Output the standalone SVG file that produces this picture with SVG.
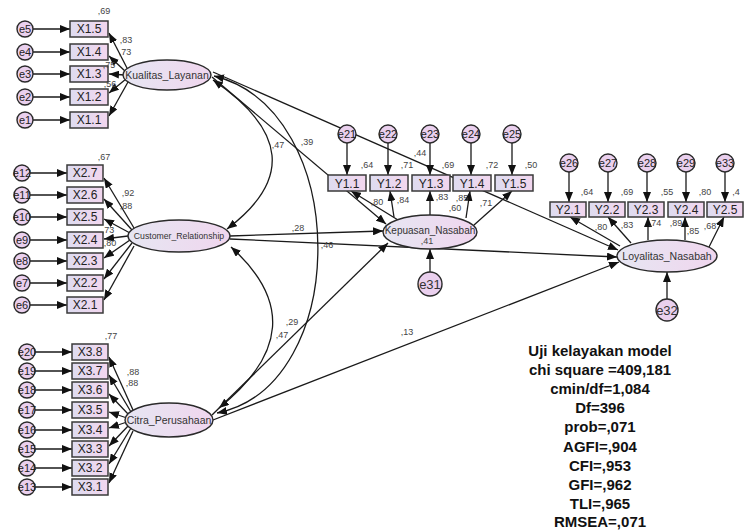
<svg xmlns="http://www.w3.org/2000/svg" width="744" height="531" viewBox="0 0 744 531">
<defs>
  <linearGradient id="gBox" x1="0" y1="0" x2="1" y2="0">
    <stop offset="0" stop-color="#dedcf0"/>
    <stop offset="1" stop-color="#f2d6ee"/>
  </linearGradient>
  <linearGradient id="gEll" x1="0" y1="0" x2="1" y2="0">
    <stop offset="0" stop-color="#e6e6f2"/>
    <stop offset="1" stop-color="#f0d6ee"/>
  </linearGradient>
  <marker id="ah" viewBox="0 0 10 8" refX="10" refY="4" markerWidth="10" markerHeight="8" markerUnits="userSpaceOnUse" orient="auto-start-reverse">
    <path d="M0,0 L10,4 L0,8 z" fill="#111"/>
  </marker>
  <style>
    .box{fill:url(#gBox);stroke:#3a3a3a;stroke-width:1.5}
    .ell{fill:url(#gEll);stroke:#2a2a2a;stroke-width:1.4}
    .err{fill:#ead0ee;stroke:#2a2a2a;stroke-width:1.4}
    .bt{font-family:"Liberation Sans",Arial,sans-serif;font-size:12px;fill:#222;text-anchor:middle}
    .lt{font-family:"Liberation Sans",Arial,sans-serif;fill:#333;text-anchor:middle}
    .et{font-family:"Liberation Sans",Arial,sans-serif;font-size:11px;fill:#222;text-anchor:middle}
    .n{font-family:"Liberation Sans",Arial,sans-serif;font-size:9px;fill:#444;text-anchor:middle}
    .c{fill:none;stroke:#1a1a1a;stroke-width:1.3;marker-end:url(#ah)}
    .cd{fill:none;stroke:#1a1a1a;stroke-width:1.3;marker-end:url(#ah);marker-start:url(#ah)}
    .fit{font-family:"Liberation Sans",Arial,sans-serif;font-size:15px;font-weight:bold;fill:#111;text-anchor:middle}
  </style>
</defs>
<rect width="744" height="531" fill="#ffffff"/>

<!-- connectors -->
<g id="connectors">
  <!-- errors to Kualitas_Layanan indicators -->
  <line class="c" x1="33" y1="29" x2="70" y2="29"/>
  <line class="c" x1="33" y1="52" x2="70" y2="52"/>
  <line class="c" x1="33" y1="74" x2="70" y2="74"/>
  <line class="c" x1="33" y1="97" x2="70" y2="97"/>
  <line class="c" x1="33" y1="120" x2="70" y2="120"/>
  <!-- Kualitas_Layanan loadings -->
  <line class="c" x1="128" y1="70" x2="109" y2="33"/>
  <line class="c" x1="126" y1="72" x2="109" y2="56"/>
  <line class="c" x1="125" y1="75" x2="109" y2="74"/>
  <line class="c" x1="126" y1="79" x2="109" y2="93"/>
  <line class="c" x1="128" y1="82" x2="109" y2="116"/>

  <!-- errors to Customer_Relationship indicators -->
  <line class="c" x1="30" y1="173" x2="67" y2="173"/>
  <line class="c" x1="30" y1="195" x2="67" y2="195"/>
  <line class="c" x1="30" y1="217" x2="67" y2="217"/>
  <line class="c" x1="30" y1="240" x2="67" y2="240"/>
  <line class="c" x1="30" y1="261" x2="67" y2="261"/>
  <line class="c" x1="30" y1="283" x2="67" y2="283"/>
  <line class="c" x1="30" y1="305" x2="67" y2="305"/>
  <!-- Customer_Relationship loadings -->
  <line class="c" x1="134" y1="228" x2="104" y2="178"/>
  <line class="c" x1="132" y1="230" x2="104" y2="199"/>
  <line class="c" x1="130" y1="233" x2="104" y2="219"/>
  <line class="c" x1="128" y1="236" x2="104" y2="239"/>
  <line class="c" x1="130" y1="240" x2="104" y2="258"/>
  <line class="c" x1="132" y1="243" x2="104" y2="279"/>
  <line class="c" x1="134" y1="246" x2="104" y2="300"/>

  <!-- errors to Citra_Perusahaan indicators -->
  <line class="c" x1="35" y1="352" x2="72" y2="352"/>
  <line class="c" x1="35" y1="371" x2="72" y2="371"/>
  <line class="c" x1="35" y1="390" x2="72" y2="390"/>
  <line class="c" x1="35" y1="410" x2="72" y2="410"/>
  <line class="c" x1="35" y1="430" x2="72" y2="430"/>
  <line class="c" x1="35" y1="449" x2="72" y2="449"/>
  <line class="c" x1="35" y1="468" x2="72" y2="468"/>
  <line class="c" x1="35" y1="487" x2="72" y2="487"/>
  <!-- Citra_Perusahaan loadings -->
  <line class="c" x1="133" y1="410" x2="109" y2="357"/>
  <line class="c" x1="131" y1="412" x2="109" y2="375"/>
  <line class="c" x1="129" y1="415" x2="109" y2="394"/>
  <line class="c" x1="127" y1="418" x2="109" y2="412"/>
  <line class="c" x1="127" y1="422" x2="109" y2="428"/>
  <line class="c" x1="129" y1="425" x2="109" y2="446"/>
  <line class="c" x1="131" y1="428" x2="109" y2="464"/>
  <line class="c" x1="133" y1="431" x2="109" y2="483"/>

  <!-- covariances between exogenous constructs -->
  <path class="cd" d="M213,80 Q324,156 227,229"/>
  <path class="cd" d="M214,76 C352,110 352,386 217,413"/>
  <path class="cd" d="M231,247 Q320,327 219,408"/>

  <!-- structural paths -->
  <line class="c" x1="212" y1="77" x2="386" y2="224"/>
  <line class="c" x1="213" y1="72" x2="618" y2="250"/>
  <line class="c" x1="230" y1="236" x2="383" y2="231"/>
  <line class="c" x1="230" y1="239" x2="617" y2="257"/>
  <line class="c" x1="212" y1="415" x2="388" y2="243"/>
  <line class="c" x1="213" y1="420" x2="619" y2="262"/>

  <!-- Kepuasan_Nasabah measurement -->
  <line class="c" x1="347" y1="143" x2="347" y2="175"/>
  <line class="c" x1="388" y1="143" x2="388" y2="175"/>
  <line class="c" x1="430" y1="143" x2="430" y2="175"/>
  <line class="c" x1="471" y1="143" x2="471" y2="175"/>
  <line class="c" x1="512" y1="143" x2="512" y2="175"/>
  <line class="c" x1="398" y1="220" x2="351" y2="191"/>
  <line class="c" x1="394" y1="217" x2="390" y2="191"/>
  <line class="c" x1="430" y1="215" x2="430" y2="191"/>
  <line class="c" x1="466" y1="218" x2="470" y2="191"/>
  <line class="c" x1="474" y1="225" x2="512" y2="191"/>
  <line class="c" x1="430" y1="272" x2="430" y2="249"/>

  <!-- Loyalitas_Nasabah measurement -->
  <line class="c" x1="569" y1="172" x2="569" y2="202"/>
  <line class="c" x1="608" y1="172" x2="608" y2="202"/>
  <line class="c" x1="647" y1="172" x2="647" y2="202"/>
  <line class="c" x1="686" y1="172" x2="686" y2="202"/>
  <line class="c" x1="725" y1="172" x2="725" y2="202"/>
  <line class="c" x1="620" y1="246" x2="570" y2="217"/>
  <line class="c" x1="631" y1="243" x2="608" y2="217"/>
  <line class="c" x1="648" y1="240" x2="648" y2="217"/>
  <line class="c" x1="685" y1="240" x2="685" y2="217"/>
  <line class="c" x1="709" y1="247" x2="724" y2="217"/>
  <line class="c" x1="667" y1="299" x2="667" y2="272"/>
</g>

<!-- Kualitas_Layanan block -->
<g id="e5"><circle class="err" cx="25" cy="29" r="8"/><text class="et" x="25" y="33">e5</text></g>
<g id="e4"><circle class="err" cx="25" cy="52" r="8"/><text class="et" x="25" y="56">e4</text></g>
<g id="e3"><circle class="err" cx="25" cy="74" r="8"/><text class="et" x="25" y="78">e3</text></g>
<g id="e2"><circle class="err" cx="25" cy="97" r="8"/><text class="et" x="25" y="101">e2</text></g>
<g id="e1"><circle class="err" cx="25" cy="120" r="8"/><text class="et" x="25" y="124">e1</text></g>
<g id="X1.5"><rect class="box" x="70" y="21" width="38" height="16"/><text class="bt" x="89" y="33">X1.5</text></g>
<g id="X1.4"><rect class="box" x="70" y="44" width="38" height="16"/><text class="bt" x="89" y="56">X1.4</text></g>
<g id="X1.3"><rect class="box" x="70" y="66" width="38" height="16"/><text class="bt" x="89" y="78">X1.3</text></g>
<g id="X1.2"><rect class="box" x="70" y="89" width="38" height="16"/><text class="bt" x="89" y="101">X1.2</text></g>
<g id="X1.1"><rect class="box" x="70" y="112" width="38" height="16"/><text class="bt" x="89" y="124">X1.1</text></g>
<g id="Kualitas_Layanan"><ellipse class="ell" cx="167" cy="75" rx="44" ry="15"/><text class="lt" x="167" y="79" font-size="10.5">Kualitas_Layanan</text></g>
<g id="labels-x1">
  <text class="n" x="104" y="14">,69</text>
  <text class="n" x="126" y="43">,83</text>
  <text class="n" x="125" y="55">,73</text>
  <text class="n" x="109" y="68">,75</text>
  <text class="n" x="110" y="87">,56</text>
</g>

<!-- Customer_Relationship block -->
<g id="e12"><circle class="err" cx="22" cy="173" r="8"/><text class="et" x="22" y="177">e12</text></g>
<g id="e11"><circle class="err" cx="22" cy="195" r="8"/><text class="et" x="22" y="199">e11</text></g>
<g id="e10"><circle class="err" cx="22" cy="217" r="8"/><text class="et" x="22" y="221">e10</text></g>
<g id="e9"><circle class="err" cx="22" cy="240" r="8"/><text class="et" x="22" y="244">e9</text></g>
<g id="e8"><circle class="err" cx="22" cy="261" r="8"/><text class="et" x="22" y="265">e8</text></g>
<g id="e7"><circle class="err" cx="22" cy="283" r="8"/><text class="et" x="22" y="287">e7</text></g>
<g id="e6"><circle class="err" cx="22" cy="305" r="8"/><text class="et" x="22" y="309">e6</text></g>
<g id="X2.7"><rect class="box" x="67" y="165" width="36" height="16"/><text class="bt" x="85" y="177">X2.7</text></g>
<g id="X2.6"><rect class="box" x="67" y="187" width="36" height="16"/><text class="bt" x="85" y="199">X2.6</text></g>
<g id="X2.5"><rect class="box" x="67" y="209" width="36" height="16"/><text class="bt" x="85" y="221">X2.5</text></g>
<g id="X2.4"><rect class="box" x="67" y="232" width="36" height="16"/><text class="bt" x="85" y="244">X2.4</text></g>
<g id="X2.3"><rect class="box" x="67" y="253" width="36" height="16"/><text class="bt" x="85" y="265">X2.3</text></g>
<g id="X2.2"><rect class="box" x="67" y="275" width="36" height="16"/><text class="bt" x="85" y="287">X2.2</text></g>
<g id="X2.1"><rect class="box" x="67" y="297" width="36" height="16"/><text class="bt" x="85" y="309">X2.1</text></g>
<g id="Customer_Relationship"><ellipse class="ell" cx="179" cy="236" rx="51" ry="16"/><text class="lt" x="179" y="239" font-size="8.7">Customer_Relationship</text></g>
<g id="labels-x2">
  <text class="n" x="104" y="160">,67</text>
  <text class="n" x="128" y="196">,92</text>
  <text class="n" x="126" y="209">,88</text>
  <text class="n" x="108" y="233">,73</text>
  <text class="n" x="110" y="246">,80</text>
</g>

<!-- Citra_Perusahaan block -->
<g id="e20"><circle class="err" cx="27" cy="352" r="8"/><text class="et" x="27" y="356">e20</text></g>
<g id="e19"><circle class="err" cx="27" cy="371" r="8"/><text class="et" x="27" y="375">e19</text></g>
<g id="e18"><circle class="err" cx="27" cy="390" r="8"/><text class="et" x="27" y="394">e18</text></g>
<g id="e17"><circle class="err" cx="27" cy="410" r="8"/><text class="et" x="27" y="414">e17</text></g>
<g id="e16"><circle class="err" cx="27" cy="430" r="8"/><text class="et" x="27" y="434">e16</text></g>
<g id="e15"><circle class="err" cx="27" cy="449" r="8"/><text class="et" x="27" y="453">e15</text></g>
<g id="e14"><circle class="err" cx="27" cy="468" r="8"/><text class="et" x="27" y="472">e14</text></g>
<g id="e13"><circle class="err" cx="27" cy="487" r="8"/><text class="et" x="27" y="491">e13</text></g>
<g id="X3.8"><rect class="box" x="72" y="344" width="36" height="16"/><text class="bt" x="90" y="356">X3.8</text></g>
<g id="X3.7"><rect class="box" x="72" y="363" width="36" height="16"/><text class="bt" x="90" y="375">X3.7</text></g>
<g id="X3.6"><rect class="box" x="72" y="382" width="36" height="16"/><text class="bt" x="90" y="394">X3.6</text></g>
<g id="X3.5"><rect class="box" x="72" y="402" width="36" height="16"/><text class="bt" x="90" y="414">X3.5</text></g>
<g id="X3.4"><rect class="box" x="72" y="422" width="36" height="16"/><text class="bt" x="90" y="434">X3.4</text></g>
<g id="X3.3"><rect class="box" x="72" y="441" width="36" height="16"/><text class="bt" x="90" y="453">X3.3</text></g>
<g id="X3.2"><rect class="box" x="72" y="460" width="36" height="16"/><text class="bt" x="90" y="472">X3.2</text></g>
<g id="X3.1"><rect class="box" x="72" y="479" width="36" height="16"/><text class="bt" x="90" y="491">X3.1</text></g>
<g id="Citra_Perusahaan"><ellipse class="ell" cx="169" cy="420" rx="44" ry="17"/><text class="lt" x="169" y="424" font-size="10.5">Citra_Perusahaan</text></g>
<g id="labels-x3">
  <text class="n" x="111" y="339">,77</text>
  <text class="n" x="133" y="375">,88</text>
  <text class="n" x="132" y="386">,88</text>
</g>

<!-- Kepuasan_Nasabah block -->
<g id="e21"><circle class="err" cx="347" cy="134" r="9"/><text class="et" x="347" y="138">e21</text></g>
<g id="e22"><circle class="err" cx="388" cy="134" r="9"/><text class="et" x="388" y="138">e22</text></g>
<g id="e23"><circle class="err" cx="430" cy="134" r="9"/><text class="et" x="430" y="138">e23</text></g>
<g id="e24"><circle class="err" cx="471" cy="134" r="9"/><text class="et" x="471" y="138">e24</text></g>
<g id="e25"><circle class="err" cx="512" cy="134" r="9"/><text class="et" x="512" y="138">e25</text></g>
<g id="Y1.1"><rect class="box" x="328" y="175" width="38" height="16"/><text class="bt" x="347" y="188" font-size="13">Y1.1</text></g>
<g id="Y1.2"><rect class="box" x="370" y="175" width="38" height="16"/><text class="bt" x="389" y="188" font-size="13">Y1.2</text></g>
<g id="Y1.3"><rect class="box" x="412" y="175" width="38" height="16"/><text class="bt" x="431" y="188" font-size="13">Y1.3</text></g>
<g id="Y1.4"><rect class="box" x="453" y="175" width="38" height="16"/><text class="bt" x="472" y="188" font-size="13">Y1.4</text></g>
<g id="Y1.5"><rect class="box" x="495" y="175" width="38" height="16"/><text class="bt" x="514" y="188" font-size="13">Y1.5</text></g>
<g id="Kepuasan_Nasabah"><ellipse class="ell" cx="430" cy="232" rx="47" ry="17"/><text class="lt" x="430" y="234" font-size="10">Kepuasan_Nasabah</text></g>
<g id="e31"><circle class="err" cx="430" cy="284" r="12"/><text class="lt" x="430" y="289" font-size="13">e31</text></g>
<g id="labels-y1">
  <text class="n" x="367" y="168">,64</text>
  <text class="n" x="407" y="168">,71</text>
  <text class="n" x="420" y="156">,44</text>
  <text class="n" x="448" y="168">,69</text>
  <text class="n" x="492" y="168">,72</text>
  <text class="n" x="531" y="168">,50</text>
  <text class="n" x="377" y="205">,80</text>
  <text class="n" x="403" y="203">,84</text>
  <text class="n" x="442" y="200">,83</text>
  <text class="n" x="462" y="201">,85</text>
  <text class="n" x="455" y="211">,60</text>
  <text class="n" x="486" y="206">,71</text>
  <text class="n" x="427" y="244">,41</text>
</g>

<!-- Loyalitas_Nasabah block -->
<g id="e26"><circle class="err" cx="569" cy="163" r="9"/><text class="et" x="569" y="167">e26</text></g>
<g id="e27"><circle class="err" cx="608" cy="163" r="9"/><text class="et" x="608" y="167">e27</text></g>
<g id="e28"><circle class="err" cx="647" cy="163" r="9"/><text class="et" x="647" y="167">e28</text></g>
<g id="e29"><circle class="err" cx="686" cy="163" r="9"/><text class="et" x="686" y="167">e29</text></g>
<g id="e33"><circle class="err" cx="725" cy="163" r="9"/><text class="et" x="725" y="167">e33</text></g>
<g id="Y2.1"><rect class="box" x="550" y="202" width="36" height="15"/><text class="bt" x="568" y="214" font-size="11.5">Y2.1</text></g>
<g id="Y2.2"><rect class="box" x="589" y="202" width="36" height="15"/><text class="bt" x="607" y="214" font-size="11.5">Y2.2</text></g>
<g id="Y2.3"><rect class="box" x="628" y="202" width="36" height="15"/><text class="bt" x="646" y="214" font-size="11.5">Y2.3</text></g>
<g id="Y2.4"><rect class="box" x="668" y="202" width="36" height="15"/><text class="bt" x="686" y="214" font-size="11.5">Y2.4</text></g>
<g id="Y2.5"><rect class="box" x="707" y="202" width="36" height="15"/><text class="bt" x="725" y="214" font-size="11.5">Y2.5</text></g>
<g id="Loyalitas_Nasabah"><ellipse class="ell" cx="667" cy="256" rx="50" ry="16"/><text class="lt" x="667" y="260" font-size="10.5">Loyalitas_Nasabah</text></g>
<g id="e32"><circle class="err" cx="667" cy="310" r="11"/><text class="lt" x="667" y="315" font-size="13">e32</text></g>
<g id="labels-y2">
  <text class="n" x="587" y="195">,64</text>
  <text class="n" x="627" y="195">,69</text>
  <text class="n" x="667" y="195">,55</text>
  <text class="n" x="705" y="195">,80</text>
  <text class="n" x="736" y="195" text-anchor="start">,4</text>
  <text class="n" x="601" y="230">,80</text>
  <text class="n" x="627" y="228">,83</text>
  <text class="n" x="655" y="226">,74</text>
  <text class="n" x="676" y="226">,89</text>
  <text class="n" x="693" y="234">,85</text>
  <text class="n" x="710" y="229">,68</text>
</g>

<!-- structural estimates -->
<g id="labels-structural">
  <text class="n" x="278" y="148">,47</text>
  <text class="n" x="307" y="145">,39</text>
  <text class="n" x="298" y="231">,28</text>
  <text class="n" x="327" y="248">,46</text>
  <text class="n" x="292" y="325">,29</text>
  <text class="n" x="282" y="338">,47</text>
  <text class="n" x="407" y="335">,13</text>
</g>

<!-- model fit summary -->
<g id="fit-summary">
  <text class="fit" x="600" y="356">Uji kelayakan model</text>
  <text class="fit" x="600" y="375">chi square =409,181</text>
  <text class="fit" x="600" y="394">cmin/df=1,084</text>
  <text class="fit" x="600" y="413">Df=396</text>
  <text class="fit" x="600" y="432">prob=,071</text>
  <text class="fit" x="600" y="452">AGFI=,904</text>
  <text class="fit" x="600" y="471">CFI=,953</text>
  <text class="fit" x="600" y="490">GFI=,962</text>
  <text class="fit" x="600" y="509">TLI=,965</text>
  <text class="fit" x="600" y="527">RMSEA=,071</text>
</g>
</svg>
